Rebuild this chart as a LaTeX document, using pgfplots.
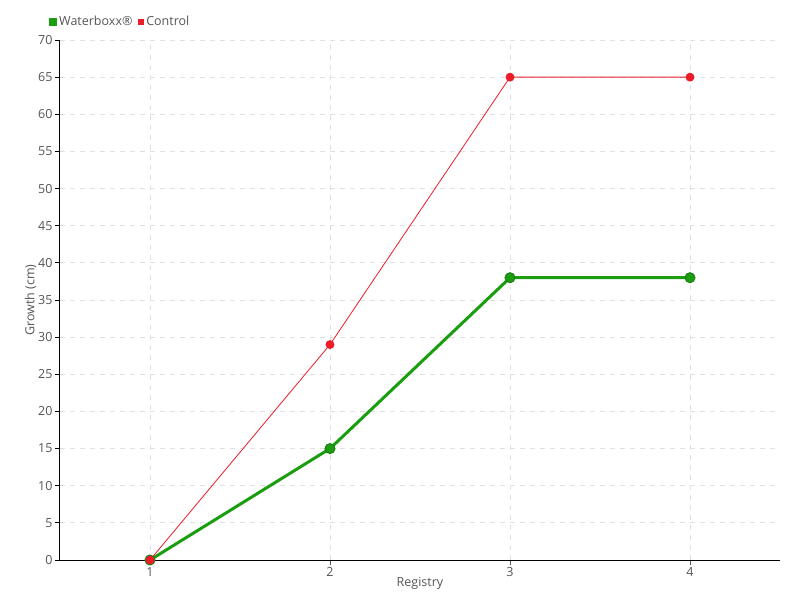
\documentclass[border=0pt]{standalone}
\usepackage{pgfplots}
\pgfplotsset{compat=1.18}
\usepackage{fontspec}
\setmainfont{Open Sans}
\definecolor{wgreen}{HTML}{1A9E10}
\definecolor{wgreendk}{HTML}{1B7F12}
\definecolor{cred}{HTML}{EC1C2A}
\definecolor{txt}{HTML}{555555}
\definecolor{gridc}{HTML}{E0E0E0}
\begin{document}
\begin{tikzpicture}[x=1pt,y=1pt]
\begin{axis}[
  at={(0pt,0pt)}, anchor=origin,
  scale only axis, width=720pt, height=520pt,
  xmin=0.5, xmax=4.5, ymin=0, ymax=70,
  xtick={1,2,3,4}, ytick={0,5,...,70},
  axis x line*=bottom, axis y line*=left,
  axis line style={black, line width=1pt, -},
  tick align=outside,
  major tick length=5pt,
  x tick style={txt, line width=0.8pt},
  y tick style={black, line width=0.8pt},
  grid=major,
  major grid style={gridc, dash pattern=on 5pt off 5pt, line width=0.8pt},
  tick label style={font=\fontsize{12.5}{14}\selectfont, text=txt},
  /pgf/number format/assume math mode=true,
  xticklabel style={yshift=1pt},
  yticklabel style={xshift=1pt},
  xlabel={Registry}, ylabel={Growth (cm)},
  label style={font=\fontsize{12.5}{14}\selectfont, text=txt},
  xlabel style={yshift=6pt},
  ylabel style={yshift=-5pt},
  legend style={at={(-11pt,538pt)}, anchor=west, draw=none, fill=none,
    legend columns=2, font=\fontsize{12.5}{14}\selectfont, text=txt,
    /tikz/every even column/.append style={column sep=4pt},
    inner sep=0pt},
  legend image code/.code={\fill[#1] (2pt,-2.5pt) rectangle (7pt,2.5pt);},
  clip=false,
]
\addplot[wgreen, line width=3pt, mark=*, mark size=5pt,
  mark options={fill=wgreen, draw=wgreendk, line width=1pt}]
  coordinates {(1,0) (2,15) (3,38) (4,38)};
\addlegendentry{Waterboxx®}
\addplot[cred, line width=0.8pt, mark=*, mark size=4pt,
  mark options={fill=cred, draw=cred}]
  coordinates {(1,0) (2,29) (3,65) (4,65)};
\addlegendentry{Control}
\end{axis}
\path[use as bounding box] (-60pt,-40pt) rectangle (740pt,560pt);
\end{tikzpicture}
\end{document}
